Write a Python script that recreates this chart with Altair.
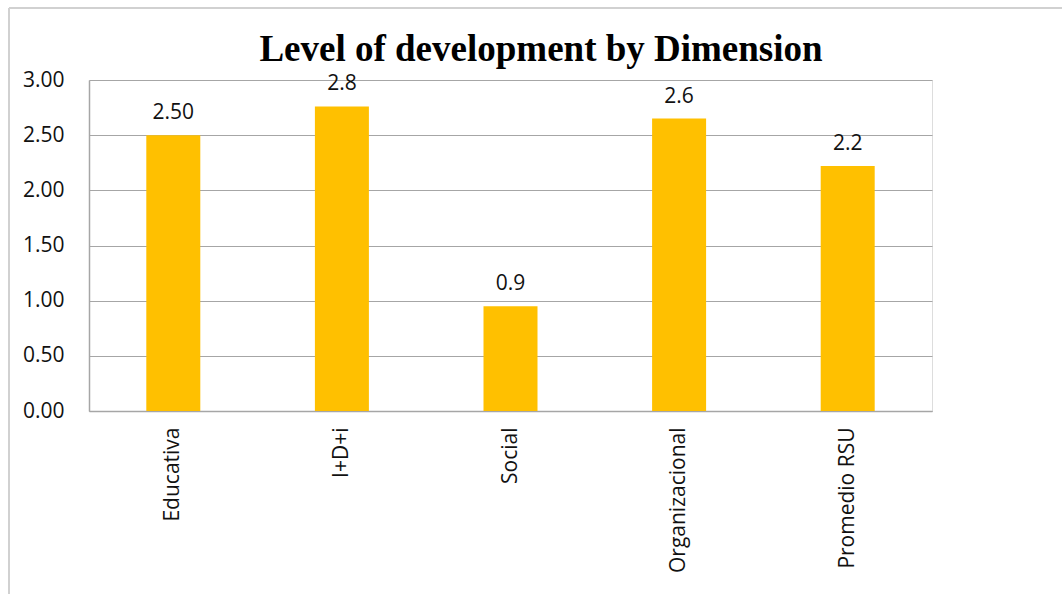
import altair as alt
import pandas as pd

categories = ["Educativa", "I+D+i", "Social", "Organizacional", "Promedio RSU"]
values = [2.50, 2.76, 0.95, 2.65, 2.22]
value_labels = ["2.50", "2.8", "0.9", "2.6", "2.2"]
title_text = "Level of development by Dimension"

df = pd.DataFrame({"cat": categories, "val": values, "lab": value_labels})

LABEL_FONT = "Open Sans"

x = alt.X("cat:N", sort=categories, title=None,
          scale=alt.Scale(paddingInner=0.68, paddingOuter=0.34),
          axis=alt.Axis(labelAngle=270, labelFont=LABEL_FONT, labelFontSize=21,
                        labelColor="#111111", labelPadding=16, ticks=False,
                        domainColor="#a6a6a6", domainWidth=1.5, grid=False))
y = alt.Y("val:Q", title=None,
          scale=alt.Scale(domain=[0, 3], nice=False),
          axis=alt.Axis(values=[0, 0.5, 1, 1.5, 2, 2.5, 3], format=".2f",
                        labelFont=LABEL_FONT, labelFontSize=21, labelColor="#111111",
                        labelPadding=25, ticks=False, domainColor="#a6a6a6",
                        domainWidth=1.5, gridColor="#a6a6a6", gridWidth=1.2))

bars = alt.Chart(df).mark_bar(color="#FFC000", width=54).encode(x=x, y=y)

texts = alt.Chart(df).mark_text(font=LABEL_FONT, fontSize=21, color="#111111",
                                baseline="bottom", dy=-12).encode(
    x=alt.X("cat:N", sort=categories), y="val:Q", text="lab:N")

title_mark = alt.Chart(pd.DataFrame({"t": [title_text]})).mark_text(
    font="Liberation Serif", fontSize=37, fontWeight="bold", color="black",
    align="center", baseline="alphabetic").encode(
    x=alt.value(452), y=alt.value(-19), text="t:N")

frame_left = alt.Chart(df).mark_rule(color="#d0d0d0", strokeWidth=1.5).encode(
    x=alt.value(-80), y=alt.value(-72), y2=alt.value(600))
frame_top = alt.Chart(df).mark_rule(color="#d0d0d0", strokeWidth=1.5).encode(
    x=alt.value(-80), x2=alt.value(1000), y=alt.value(-72))

chart = alt.layer(bars, texts, title_mark, frame_left, frame_top).properties(
    width=843, height=331,
    autosize=alt.AutoSizeParams(type="none"),
    padding={"left": 89, "top": 80, "right": 130, "bottom": 183},
).configure_view(stroke="transparent", strokeWidth=0).configure(background="white")

chart.save("out.html", embed_options={"renderer": "svg", "actions": False})
